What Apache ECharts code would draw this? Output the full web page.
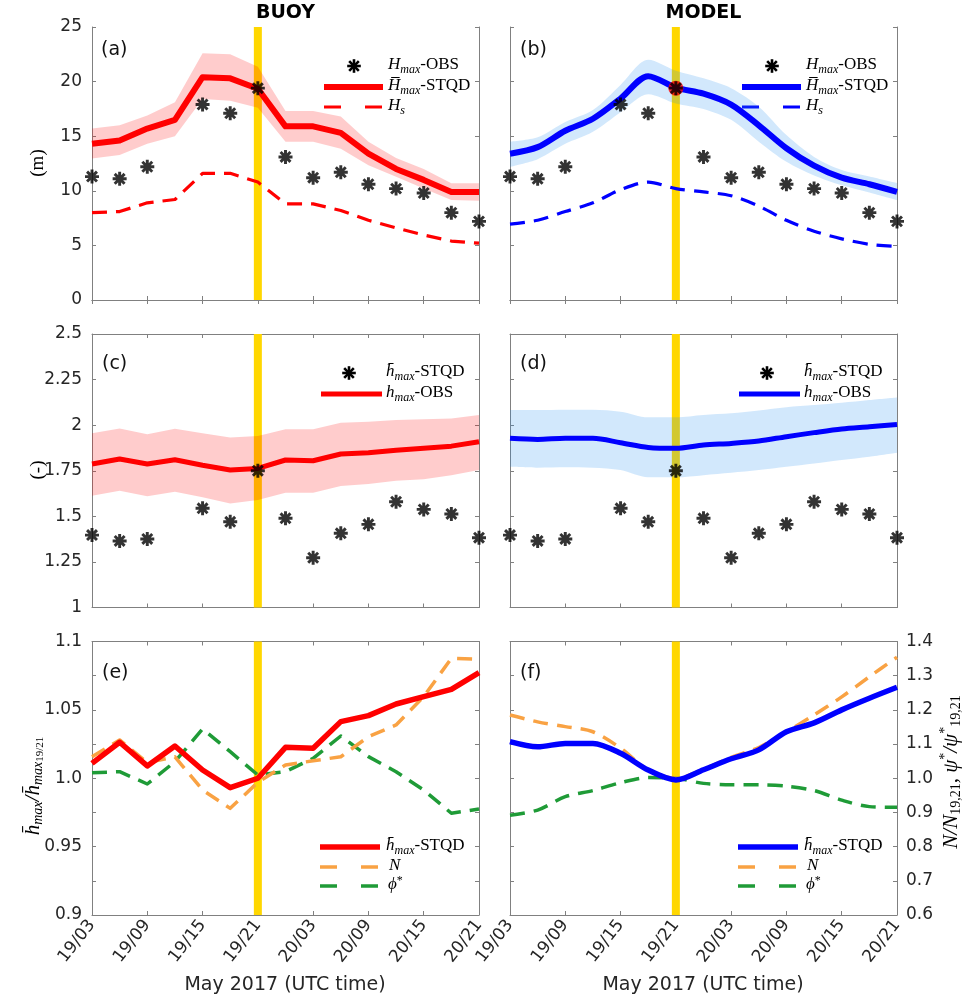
<!DOCTYPE html>
<html><head><meta charset="utf-8">
<script src="https://cdn.jsdelivr.net/npm/echarts@6/dist/echarts.min.js"></script>
<style>html,body{margin:0;padding:0;background:#fff}#c{width:966px;height:1006px}</style>
</head><body><div id="c"></div>
<script>
// ---------------- data ----------------
const categories = ['19/03','19/06','19/09','19/12','19/15','19/18','19/21','20/00','20/03','20/06','20/09','20/12','20/15','20/18','20/21'];
const xTickLabels = ['19/03','19/09','19/15','19/21','20/03','20/09','20/15','20/21'];
const highlightCat = '19/21';

// (a)/(b) wave heights (m)
const obsHmax     = [11.3, 11.1, 12.2, null, 17.9, 17.1, 19.4, 13.1, 11.2, 11.7, 10.6, 10.2, 9.8, 8.0, 7.2];
const buoyHmax    = [14.3, 14.6, 15.7, 16.5, 20.4, 20.3, 19.35, 15.9, 15.9, 15.3, 13.4, 12.0, 11.0, 9.9, 9.9];
const buoyHmaxUp  = [15.7, 16.0, 16.9, 18.1, 22.6, 22.5, 21.35, 17.3, 17.3, 16.8, 14.5, 13.0, 12.0, 10.7, 10.7];
const buoyHmaxLo  = [12.96, 13.27, 14.3, 15.0, 18.4, 18.24, 17.6, 14.5, 14.5, 13.86, 12.35, 11.28, 10.2, 9.15, 9.1];
const buoyHs      = [8.0, 8.1, 8.9, 9.2, 11.6, 11.6, 10.8, 8.8, 8.8, 8.2, 7.3, 6.6, 5.95, 5.4, 5.2];
const modelHmax   = [13.4, 14.0, 15.5, 16.6, 18.45, 20.5, 19.45, 18.9, 17.9, 16.0, 13.9, 12.3, 11.2, 10.6, 9.9];
const modelHmaxUp = [14.5, 14.9, 16.3, 17.4, 19.7, 22.0, 21.0, 20.3, 19.4, 17.7, 15.1, 13.1, 11.9, 11.3, 10.7];
const modelHmaxLo = [12.2, 12.9, 14.3, 15.4, 17.2, 18.85, 18.0, 17.5, 16.5, 14.5, 12.65, 11.4, 10.5, 9.85, 9.15];
const modelHs     = [6.95, 7.3, 8.1, 8.9, 10.1, 10.8, 10.2, 9.9, 9.55, 8.6, 7.3, 6.3, 5.6, 5.1, 4.9];
const markedObs   = [['19/21', 19.4]];

// (c)/(d) normalised heights (-)
const obsRatio     = [1.397, 1.365, 1.376, null, 1.544, 1.47, 1.75, 1.489, 1.273, 1.407, 1.456, 1.58, 1.538, 1.513, 1.383];
const buoyRatio    = [1.787, 1.814, 1.787, 1.81, 1.78, 1.754, 1.763, 1.809, 1.805, 1.842, 1.849, 1.863, 1.873, 1.885, 1.909];
const buoyRatioUp  = [1.955, 1.982, 1.95, 1.98, 1.955, 1.933, 1.94, 1.977, 1.977, 2.013, 2.019, 2.028, 2.032, 2.037, 2.056];
const buoyRatioLo  = [1.613, 1.64, 1.61, 1.635, 1.604, 1.571, 1.589, 1.629, 1.629, 1.666, 1.677, 1.695, 1.703, 1.726, 1.754];
const modelRatio   = [1.928, 1.922, 1.928, 1.928, 1.904, 1.878, 1.873, 1.891, 1.9, 1.913, 1.937, 1.959, 1.979, 1.991, 2.004];
const modelRatioUp = [2.083, 2.083, 2.085, 2.085, 2.074, 2.043, 2.043, 2.056, 2.065, 2.08, 2.098, 2.11, 2.123, 2.138, 2.152];
const modelRatioLo = [1.772, 1.767, 1.769, 1.767, 1.754, 1.714, 1.714, 1.726, 1.739, 1.754, 1.772, 1.79, 1.809, 1.827, 1.849];

// (e) buoy normalised quantities
const buoyNorm = [1.0109, 1.0263, 1.009, 1.0236, 1.006, 0.9931, 1.0, 1.0226, 1.0219, 1.0414, 1.0458, 1.0543, 1.0597, 1.065, 1.0772];
const buoyN    = [1.0157, 1.028, 1.0114, 1.0157, 0.9914, 0.978, 0.997, 1.0097, 1.0128, 1.0157, 1.0304, 1.039, 1.0597, 1.0877, 1.087];
const buoyPhi  = [1.004, 1.0048, 0.9958, 1.0121, 1.036, 1.0194, 1.0024, 1.0048, 1.0146, 1.0309, 1.0158, 1.0048, 0.9914, 0.9744, 0.9775];
// (f) model normalised quantities (right axis)
const modelNorm = [1.107, 1.092, 1.102, 1.102, 1.073, 1.024, 0.995, 1.025, 1.057, 1.083, 1.136, 1.162, 1.2, 1.234, 1.266];
const modelN    = [1.185, 1.165, 1.151, 1.136, 1.088, 1.024, 1.0, 1.026, 1.061, 1.09, 1.136, 1.185, 1.238, 1.297, 1.354];
const modelPhi  = [0.892, 0.907, 0.946, 0.964, 0.987, 1.002, 1.0, 0.985, 0.981, 0.981, 0.977, 0.964, 0.936, 0.917, 0.915];

// axis ranges
const rangeH = [0, 25, 5];
const rangeR = [1, 2.5, 0.25];
const rangeE = [0.9, 1.1, 0.025];
const rangeF = [0.6, 1.4, 0.1];
const eTickLabels = {900: '0.9', 950: '0.95', 1000: '1.0', 1050: '1.05', 1100: '1.1'};

// ---------------- styles ----------------
const SANS = 'DejaVu Sans', SERIF = 'Liberation Serif';
const RED = '#ff0000', BLUE = '#0000ff', ORANGE = '#f9a243', GREEN = '#1f9b37', GOLD = '#ffd700';
const RED_BAND = 'rgba(255,0,0,0.2)', BLUE_BAND = 'rgba(30,140,240,0.2)';
const AXC = '#808080', TXT = '#262626';

function asteriskPath() {
  const r = 10, w = 2.1; let d = '';
  [0, 45, 90, 135].forEach(a => {
    const t = a * Math.PI / 180, c = Math.cos(t), s = Math.sin(t);
    const pts = [[-r, -w], [r, -w], [r, w], [-r, w]].map(([x, y]) => [x * c - y * s, x * s + y * c]);
    d += 'M' + pts.map(p => p[0].toFixed(3) + ',' + p[1].toFixed(3)).join('L') + 'Z';
  });
  return 'path://' + d;
}
const STAR = asteriskPath();

const grids = [
  {left: 92, top: 27, width: 387, height: 273},
  {left: 510, top: 27, width: 387, height: 273},
  {left: 92, top: 334, width: 387, height: 273.5},
  {left: 510, top: 334, width: 387, height: 273.5},
  {left: 92, top: 641.5, width: 387, height: 273.5},
  {left: 510, top: 641.5, width: 387, height: 273.5}
];

const isTick = (i, v) => xTickLabels.indexOf(v) >= 0;
const xAxes = [], yAxes = [];
grids.forEach((g, gi) => {
  const showX = gi >= 4;
  ['bottom', 'top'].forEach(pos => {
    xAxes.push({
      gridIndex: gi, type: 'category', data: categories, boundaryGap: false, position: pos,
      axisLine: {lineStyle: {color: AXC, width: 1}},
      axisTick: {inside: true, length: 4, interval: isTick, lineStyle: {color: AXC}},
      axisLabel: {show: showX && pos === 'bottom', interval: isTick, rotate: 52, margin: 7,
        fontFamily: SANS, fontSize: 17, color: TXT},
      splitLine: {show: false}
    });
  });
  let rng, labL = false, labR = false, fmtL = null, rngR;
  if (gi < 2) { rng = rangeH; labL = gi === 0; }
  else if (gi < 4) { rng = rangeR; labL = gi === 2; }
  else if (gi === 4) { rng = rangeE; labL = true; fmtL = v => eTickLabels[Math.round(v * 1000)] || ''; }
  else { rng = rangeE; rngR = rangeF; labR = true; }
  const r2 = rngR || rng;
  yAxes.push({
    gridIndex: gi, type: 'value', position: 'left', min: rng[0], max: rng[1], interval: rng[2],
    axisLine: {show: true, lineStyle: {color: AXC}},
    axisTick: {show: true, inside: true, length: 4, lineStyle: {color: AXC}},
    axisLabel: {show: labL, margin: 10, fontFamily: SANS, fontSize: 17, color: TXT, formatter: fmtL || undefined},
    splitLine: {show: false}
  });
  yAxes.push({
    gridIndex: gi, type: 'value', position: 'right', min: r2[0], max: r2[1], interval: r2[2],
    axisLine: {show: true, lineStyle: {color: AXC}},
    axisTick: {show: true, inside: true, length: 4, lineStyle: {color: AXC}},
    axisLabel: {show: labR, margin: 9, fontFamily: SANS, fontSize: 17, color: TXT, formatter: v => v.toFixed(1)},
    splitLine: {show: false}
  });
});

const series = [];
function ax(gi, right) { return {xAxisIndex: 2 * gi, yAxisIndex: 2 * gi + (right ? 1 : 0)}; }
function goldLine(gi, rng, right) {
  series.push(Object.assign({type: 'line', silent: true, symbol: 'none', z: 1,
    data: [[highlightCat, rng[0]], [highlightCat, rng[1]]],
    lineStyle: {color: GOLD, width: 8}}, ax(gi, right)));
}
function band(gi, lo, up, color, smooth, name) {
  const diff = up.map((u, i) => +(u - lo[i]).toFixed(4));
  series.push(Object.assign({type: 'line', name: name + 'lo', stack: name, data: lo, symbol: 'none', smooth: smooth,
    silent: true, z: 2, lineStyle: {width: 0, opacity: 0}}, ax(gi)));
  series.push(Object.assign({type: 'line', name: name + 'up', stack: name, data: diff, symbol: 'none', smooth: smooth,
    silent: true, z: 2, lineStyle: {width: 0, opacity: 0}, areaStyle: {color: color, opacity: 1}}, ax(gi)));
}
function line(gi, data, color, width, dash, smooth, right) {
  series.push(Object.assign({type: 'line', data: data, symbol: 'none', smooth: smooth, silent: true, z: 3,
    lineStyle: {color: color, width: width, type: dash ? [15, 9] : 'solid', cap: 'butt', join: 'round'}}, ax(gi, right)));
}
function stars(gi, data) {
  series.push(Object.assign({type: 'scatter', data: data, symbol: STAR, symbolSize: 14, silent: true, z: 5,
    itemStyle: {color: '#000'}}, ax(gi)));
}

// (a)
goldLine(0, rangeH);
band(0, buoyHmaxLo, buoyHmaxUp, RED_BAND, false, 'bA');
line(0, buoyHs, RED, 3.2, true, false);
line(0, buoyHmax, RED, 6, false, false);
stars(0, obsHmax);
// (b)
goldLine(1, rangeH);
band(1, modelHmaxLo, modelHmaxUp, BLUE_BAND, 0.3, 'bB');
line(1, modelHs, BLUE, 3.2, true, 0.3);
line(1, modelHmax, BLUE, 6, false, 0.3);
series.push(Object.assign({type: 'scatter', data: markedObs, symbol: 'circle', symbolSize: 15, silent: true, z: 4,
  itemStyle: {color: RED}}, ax(1)));
stars(1, obsHmax);
// (c)
goldLine(2, rangeR);
band(2, buoyRatioLo, buoyRatioUp, RED_BAND, false, 'bC');
line(2, buoyRatio, RED, 5, false, false);
stars(2, obsRatio);
// (d)
goldLine(3, rangeR);
band(3, modelRatioLo, modelRatioUp, BLUE_BAND, 0.3, 'bD');
line(3, modelRatio, BLUE, 5, false, 0.3);
stars(3, obsRatio);
// (e)
goldLine(4, rangeE);
line(4, buoyPhi, GREEN, 3.5, true, false);
line(4, buoyN, ORANGE, 3.5, true, false);
line(4, buoyNorm, RED, 5.5, false, false);
// (f)
goldLine(5, rangeF, true);
line(5, modelPhi, GREEN, 3.5, true, 0.3, true);
line(5, modelN, ORANGE, 3.5, true, 0.3, true);
line(5, modelNorm, BLUE, 5.5, false, 0.3, true);

// ---------------- text / legends ----------------
function rich(size) {
  const sub = Math.round(size * 0.68);
  return {
    i: {fontFamily: SERIF, fontStyle: 'italic', fontSize: size, lineHeight: size + 4, color: '#111'},
    r: {fontFamily: SERIF, fontSize: size, lineHeight: size + 4, color: '#111'},
    sub: {fontFamily: SERIF, fontStyle: 'italic', fontSize: sub, lineHeight: 10, verticalAlign: 'bottom', color: '#111'},
    subr: {fontFamily: SERIF, fontSize: sub, lineHeight: 10, verticalAlign: 'bottom', color: '#111'},
    subsub: {fontFamily: SERIF, fontSize: Math.round(size * 0.5), lineHeight: 2, verticalAlign: 'bottom', color: '#111'},
    sup: {fontFamily: SERIF, fontSize: sub, lineHeight: 14, verticalAlign: 'top', color: '#111'}
  };
}
const graphic = [];
function txt(x, y, text, opts) {
  graphic.push({type: 'text', x: x, y: y, silent: true,
    style: Object.assign({text: text, fill: '#111', align: 'left', verticalAlign: 'middle'}, opts || {})});
}
function rtxt(x, y, text, size, rot) {
  graphic.push({type: 'text', x: x, y: y, rotation: rot || 0, silent: true,
    style: {text: text, rich: rich(size), align: rot ? 'center' : 'left', verticalAlign: 'middle'}});
}
function starG(cx, cy) {
  const r = 6.8;
  graphic.push({type: 'group', x: cx, y: cy, silent: true, children: [0, 45, 90, 135].map(a => {
    const t = a * Math.PI / 180;
    return {type: 'line', shape: {x1: -r * Math.cos(t), y1: -r * Math.sin(t), x2: r * Math.cos(t), y2: r * Math.sin(t)},
      style: {stroke: '#000', lineWidth: 2.6}};
  })});
}
function lineG(x1, x2, y, color, w, dash) {
  graphic.push({type: 'line', silent: true, shape: {x1: x1, y1: y, x2: x2, y2: y},
    style: {stroke: color, lineWidth: w, lineDash: dash ? [17, 24] : null}});
}

// titles
txt(285.5, 13, 'BUOY', {align: 'center', font: 'bold 19px "DejaVu Sans"', fill: '#000'});
txt(703.5, 13, 'MODEL', {align: 'center', font: 'bold 19px "DejaVu Sans"', fill: '#000'});
// panel labels
const pl = [['(a)', 101, 50], ['(b)', 520, 50], ['(c)', 102, 364], ['(d)', 520, 364], ['(e)', 102, 673], ['(f)', 520, 673]];
pl.forEach(p => txt(p[1], p[2], p[0], {font: '19px "DejaVu Sans"', fill: '#111'}));
// x axis names
txt(285, 985, 'May 2017 (UTC time)', {align: 'center', font: '19px "DejaVu Sans"', fill: TXT});
txt(703, 985, 'May 2017 (UTC time)', {align: 'center', font: '19px "DejaVu Sans"', fill: TXT});
// y axis names
rtxt(38, 163, '{r|(m)}', 19, Math.PI / 2);
rtxt(38, 470, '{r|(-)}', 19, Math.PI / 2);
rtxt(33, 786, '{i|h\u0304}{sub|max}{i|/h\u0304}{sub|max}{subsub|19/21}', 21, Math.PI / 2);
rtxt(951, 772, '{i|N/N}{subr|19,21}{r|, }{i|\u03c8}{sup|*}{i|/\u03c8}{sup|*}{subr|19,21}', 21, Math.PI / 2);

// legends
const LS = 17;
[[479, RED], [897, BLUE]].forEach(([R, col]) => {
  starG(R - 125, 66); rtxt(R - 91, 65, '{i|H}{sub|max}{r|-OBS}', LS);
  lineG(R - 155, R - 96, 87, col, 6, false); rtxt(R - 91, 86, '{i|H\u0305}{sub|max}{r|-STQD}', LS);
  lineG(R - 155, R - 96, 107, col, 3.2, true); rtxt(R - 91, 106, '{i|H}{sub|s}', LS);
  starG(R - 130, 373); rtxt(R - 93, 372, '{i|h\u0304}{sub|max}{r|-STQD}', LS);
  lineG(R - 158, R - 97, 394, col, 5, false); rtxt(R - 93, 393, '{i|h}{sub|max}{r|-OBS}', LS);
  lineG(R - 159, R - 99, 847, col, 5.5, false); rtxt(R - 93, 846, '{i|h\u0304}{sub|max}{r|-STQD}', LS);
  lineG(R - 159, R - 99, 867, ORANGE, 3.5, true); rtxt(R - 90, 866, '{i|N}', LS);
  lineG(R - 159, R - 99, 886, GREEN, 3.5, true); rtxt(R - 91, 885, '{i|\u03d5}{sup|*}', LS);
});

const chart = echarts.init(document.getElementById('c'), null, {renderer: 'canvas'});
chart.setOption({
  animation: false,
  backgroundColor: '#fff',
  grid: grids,
  xAxis: xAxes,
  yAxis: yAxes,
  series: series,
  graphic: graphic
});
</script>
</body></html>
